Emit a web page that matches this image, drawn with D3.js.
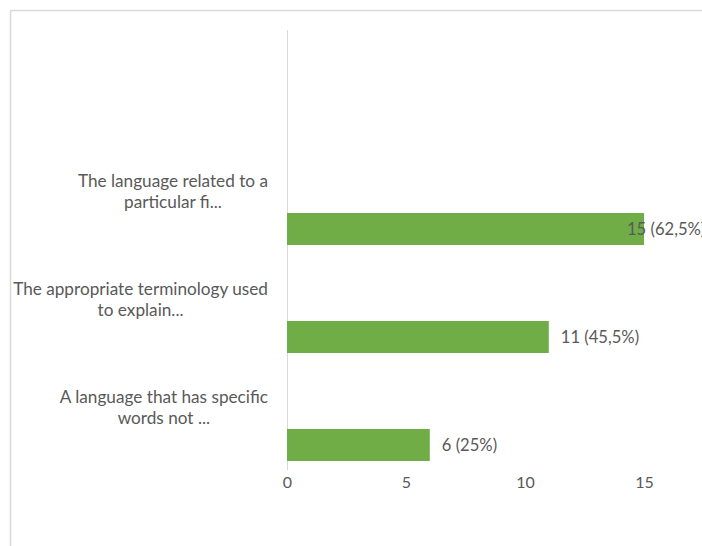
<!DOCTYPE html>
<html>
<head>
<meta charset="utf-8">
<script src="https://cdn.jsdelivr.net/npm/d3@7"></script>
<style>
  html, body { margin: 0; padding: 0; background: #fff; }
  svg { display: block; }
  text { font-family: Lato, "Open Sans", sans-serif; fill: #595959; }
</style>
</head>
<body>
<svg id="chart" width="702" height="546"></svg>
<script>
// Survey answers, top to bottom, with their (already truncated) label lines
const categories = [
  "The language related to a particular fi...",
  "The appropriate terminology used to explain...",
  "A language that has specific words not ..."
];
const categoryLines = [
  ["The language related to a", "particular fi..."],
  ["The appropriate terminology used", "to explain..."],
  ["A language that has specific", "words not ..."]
];
const counts = [15, 11, 6];
const percents = ["62,5%", "45,5%", "25%"];
const xTicks = [0, 5, 10, 15];

const W = 702, H = 546;
const svg = d3.select("#chart");
const barColor = "#70AD47";
const gridColor = "#d9d9d9";

// chart frame (its right and bottom edges fall outside the view)
svg.append("path")
  .attr("d", `M10.5,${H} V10.5 H${W}`)
  .attr("fill", "none")
  .attr("stroke", gridColor)
  .attr("stroke-width", 1.5);

const x = d3.scaleLinear().domain([0, 15]).range([287, 644]);
const y = d3.scaleBand().domain(categories)
  .range([175, 499]).paddingInner(0.7037).paddingOuter(0.352);

// vertical category axis line
svg.append("line")
  .attr("x1", x(0) + 0.5).attr("x2", x(0) + 0.5)
  .attr("y1", 30).attr("y2", 470)
  .attr("stroke", gridColor).attr("stroke-width", 1);

// value axis labels
const xAxis = d3.axisBottom(x).tickValues(xTicks).tickSize(0).tickPadding(0);
const gx = svg.append("g").attr("transform", "translate(0,477)").call(xAxis);
gx.select(".domain").remove();
gx.selectAll("text")
  .attr("font-size", 16)
  .attr("font-family", "Lato, 'Open Sans', sans-serif")
  .style("fill", "#595959")
  .attr("dy", "0.71em");

// bars
svg.selectAll("rect.bar").data(categories).enter().append("rect")
  .attr("class", "bar")
  .attr("x", x(0))
  .attr("y", d => y(d))
  .attr("width", (d, i) => x(counts[i]) - x(0))
  .attr("height", y.bandwidth())
  .attr("fill", barColor);

// category labels: block right-aligned next to the axis, lines centred in it
const labelRight = 268;
const lineGap = 21;
categories.forEach((c, i) => {
  const g = svg.append("g");
  const lines = categoryLines[i];
  const cy = y(c) + y.bandwidth() / 2 - 38;
  const texts = lines.map((ln, j) => g.append("text")
    .attr("font-size", 17.2)
    .attr("text-anchor", "middle")
    .attr("dy", "0.35em")
    .attr("y", cy + (j - (lines.length - 1) / 2) * lineGap)
    .text(ln));
  const maxW = d3.max(texts, t => t.node().getComputedTextLength());
  texts.forEach(t => t.attr("x", labelRight - maxW / 2));
});

// value labels; a label that would run past the edge is pulled back over its bar
categories.forEach((c, i) => {
  const t = svg.append("text")
    .attr("font-size", 16.6)
    .attr("dy", "0.35em")
    .attr("y", y(c) + y.bandwidth() / 2)
    .text(`${counts[i]} (${percents[i]})`);
  const w = t.node().getComputedTextLength();
  let lx = x(counts[i]) + 12;
  if (lx + w > W) lx = x(counts[i]) - 17;
  t.attr("x", lx);
});
</script>
</body>
</html>
